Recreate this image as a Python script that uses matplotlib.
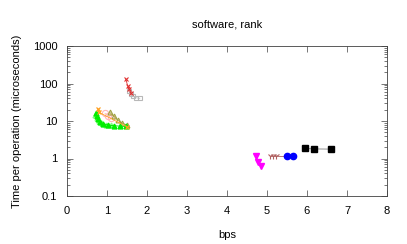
import matplotlib
matplotlib.use("Agg")
import matplotlib.pyplot as plt
from matplotlib.ticker import LogLocator, NullFormatter

plt.rcParams['font.family'] = ['Liberation Sans', 'DejaVu Sans']

# Series data (bps, microseconds)
red_x = [1.47, 1.52, 1.56, 1.60]
red_y = [130, 85, 70, 55]
gray_x = [1.55, 1.60, 1.66, 1.72, 1.82]
gray_y = [62, 52, 46, 42, 40]
green_x = [0.72, 0.75, 0.77, 0.82, 0.90, 1.02, 1.17, 1.32, 1.47]
green_y = [16.3, 13.6, 11.3, 9.5, 8.5, 7.8, 7.5, 7.3, 7.2]
lgreen_x = [0.70, 0.74, 0.80, 0.88, 0.98, 1.10]
lgreen_y = [14.5, 12.0, 10.0, 8.8, 8.0, 7.6]
orange_x = [0.77, 0.80, 1.50]
orange_y = [21, 17, 7.0]
pink_x = [0.95, 1.02, 1.10]
pink_y = [16.0, 14.0, 12.0]
olive_x = [1.07, 1.17, 1.27, 1.37, 1.50]
olive_y = [17.0, 13.5, 10.5, 8.8, 7.8]
magenta_x = [4.73, 4.78, 4.84]
magenta_y = [1.17, 0.82, 0.64]
brown_x = [5.08, 5.15, 5.23, 5.49]
brown_y = [1.15, 1.15, 1.15, 1.15]
blue_x = [5.50, 5.66]
blue_y = [1.17, 1.17]
black_x = [5.96, 6.17, 6.60]
black_y = [1.85, 1.80, 1.78]

fig = plt.figure(figsize=(4.07, 2.44), dpi=100)
ax = fig.add_axes([67/407, 1-196/244, 320/407, 150/244])

lw = 0.6
ax.plot(gray_x, gray_y, color='#c8c8c8', lw=lw, marker='s', ms=3.5, mfc='none', mec='#b8b8b8', mew=0.8)
ax.plot(red_x, red_y, color='#e03030', lw=lw, marker='x', ms=3.5, mew=0.8)
ax.plot(pink_x, pink_y, color='#ffb8b8', lw=lw, marker='o', ms=4.5, mfc='none', mew=0.8)
ax.plot(olive_x, olive_y, color='#a0a040', lw=lw, marker='^', ms=3.5, mfc='none', mew=0.8)
ax.plot(lgreen_x, lgreen_y, color='#80ff80', lw=lw, marker='^', ms=3.5, mfc='#80ff80')
ax.plot(green_x, green_y, color='#00dd00', lw=lw, marker='^', ms=3.5, mfc='#00ee00', mec='#00ee00')
ax.plot(orange_x, orange_y, color='#ffa020', lw=lw, marker='x', ms=3.5, mew=0.9)
ax.plot(magenta_x, magenta_y, color='#ff00ff', lw=lw, marker='v', ms=4.5)
ax.plot(brown_x, brown_y, color='#b06060', lw=lw, marker='1', ms=4.5, mew=0.8)
ax.plot(blue_x, blue_y, color='#0000ff', lw=lw, marker='o', ms=4.5)
ax.plot(black_x, black_y, color='#808080', lw=lw, marker='s', ms=4, mfc='black', mec='black')

ax.set_yscale('log')
ax.set_xlim(0, 8)
ax.set_ylim(0.1, 1000)
ax.set_xticks(range(0, 9))
ax.set_yticks([0.1, 1, 10, 100, 1000])
ax.set_yticklabels(['0.1', '1', '10', '100', '1000'])
ax.yaxis.set_minor_locator(LogLocator(base=10, subs=range(2, 10), numticks=20))
ax.yaxis.set_minor_formatter(NullFormatter())
ax.tick_params(which='both', direction='in', top=True, right=True, labelsize=8, width=0.5, colors='#404040', labelcolor='black')
ax.tick_params(which='major', length=4)
ax.tick_params(axis='x', which='major', pad=7.5)
ax.tick_params(axis='y', which='major', pad=7)
ax.tick_params(which='minor', length=2)
for s in ax.spines.values():
    s.set_linewidth(0.6)
    s.set_color('#404040')

ax.set_title('software, rank', fontsize=8, pad=13.5)
ax.set_xlabel('bps', fontsize=8, labelpad=10)
ax.set_ylabel('Time per operation (microseconds)', fontsize=8, labelpad=7.5)

fig.savefig('out.png', dpi=100)
